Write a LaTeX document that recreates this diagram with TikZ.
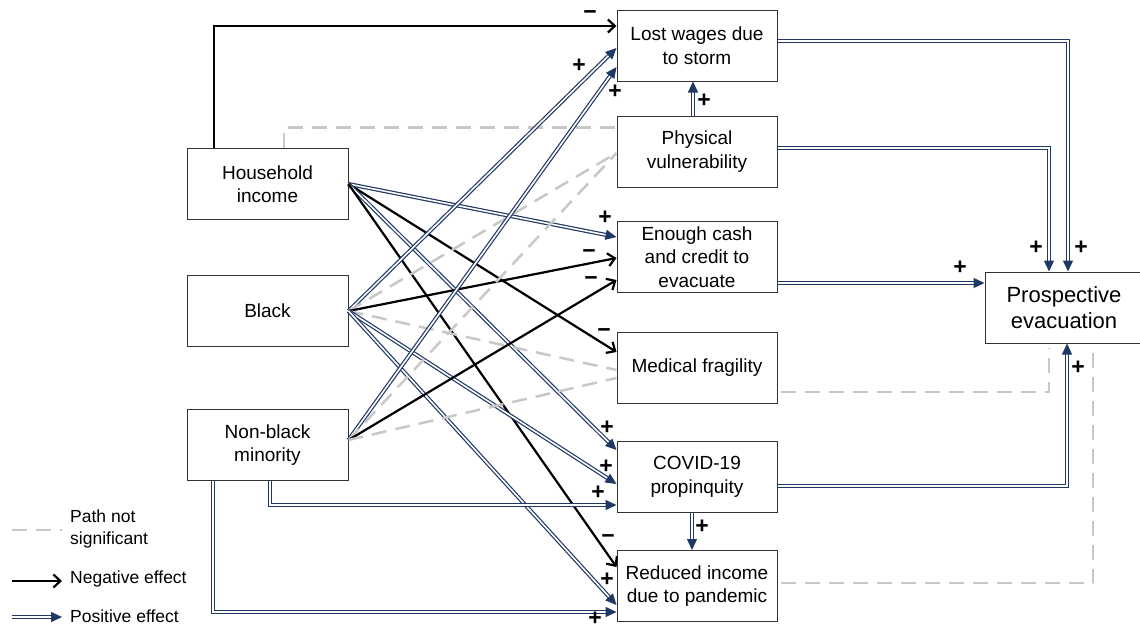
\documentclass[tikz,border=0pt]{standalone}
\usepackage{fontspec}
\setmainfont{Liberation Sans}
\usetikzlibrary{arrows.meta,calc}
\definecolor{navyc}{RGB}{31,56,100}
\definecolor{grayc}{RGB}{200,200,200}
\begin{document}
\begin{tikzpicture}[x=1pt,y=-1pt,
 box/.style={draw=black!80, line width=1pt, minimum width=160pt, minimum height=71pt, align=center, inner sep=2pt, font=\fontsize{19}{23.5}\selectfont},
 posarr/.style={draw=navyc, double=white, double distance=1.6pt, line width=1.2pt, -{Triangle[length=11pt,width=10pt]}},
 negarr/.style={draw=black, line width=2.2pt, -{Straight Barb[length=7pt,width=13pt]}},
 nsarr/.style={draw=grayc, line width=2.5pt, dash pattern=on 15pt off 9pt},
 sign/.style={font=\fontsize{23}{23}\selectfont\bfseries, inner sep=0pt},
 legtext/.style={anchor=west, align=left, inner sep=0pt, font=\fontsize{17.5}{22}\selectfont}]
\useasboundingbox (0,0) rectangle (1140,629);
% boxes
\node[box, minimum width=161pt] (hh) at (267.5,184) {Household\\income};
\node[box, minimum width=161pt] (bl) at (267.5,311) {Black};
\node[box, minimum width=161pt] (nb) at (267.5,445) {Non-black\\minority};
\node[box] (lost) at (697,45.5) {Lost wages due\\to storm};
\node[box] (phys) at (697,151.5) {Physical\\vulnerability};
\node[box] (en) at (697,257) {Enough cash\\and credit to\\evacuate};
\node[box] (med) at (697,368) {Medical fragility};
\node[box] (cov) at (697,477) {COVID-19\\propinquity};
\node[box] (red) at (697,586) {Reduced income\\due to pandemic};
\node[box, minimum width=158pt, font=\fontsize{22}{26}\selectfont] (pe) at (1064,307.5) {Prospective\\evacuation};
% household income
\draw[negarr] ([xshift=-53.5pt]hh.north) |- ([yshift=19.5pt]lost.west);
\draw[nsarr] ([xshift=16.5pt]hh.north) |- ([yshift=24pt]phys.west);
\draw[posarr] (hh.east) -- ([yshift=20pt]en.west);
\draw[negarr] (hh.east) -- ([yshift=16pt]med.west);
\draw[posarr] (hh.east) -- ([yshift=27pt]cov.west);
\draw[negarr] (hh.east) -- ([yshift=19pt]red.west);
% black
\draw[posarr] (bl.east) -- ([yshift=-2.5pt]lost.west);
\draw[nsarr] (bl.east) -- ([yshift=-1.5pt]phys.west);
\draw[negarr] (bl.east) -- ([yshift=-1pt]en.west);
\draw[nsarr] (bl.east) -- ([yshift=-2pt]med.west);
\draw[posarr] (bl.east) -- ([yshift=-7pt]cov.west);
\draw[posarr] (bl.east) -- ([yshift=-19pt]red.west);
% non-black minority
\draw[posarr] ([yshift=5pt]nb.east) -- ([yshift=-21.5pt]lost.west);
\draw[nsarr] ([yshift=5pt]nb.east) -- ([yshift=-1.5pt]phys.west);
\draw[negarr] ([yshift=5pt]nb.east) -- ([yshift=-23pt]en.west);
\draw[nsarr] ([yshift=5pt]nb.east) -- ([yshift=-10pt]med.west);
\draw[posarr] ([xshift=2.5pt]nb.south) |- ([yshift=-28pt]cov.west);
\draw[posarr] ([xshift=-54.5pt]nb.south) |- ([yshift=-26pt]red.west);
% mediators
\draw[posarr] ([xshift=-4pt]phys.north) -- ([xshift=-4pt]lost.south);
\draw[posarr] ([xshift=-5pt]cov.south) -- ([xshift=-5pt]red.north);
\draw[posarr] ([yshift=4.5pt]lost.east) -| ([xshift=4pt]pe.north);
\draw[posarr] ([yshift=3.5pt]phys.east) -| ([xshift=-15pt]pe.north);
\draw[posarr] ([yshift=-26pt]en.east) -- ([yshift=24.5pt]pe.west);
\draw[nsarr] ([xshift=3pt,yshift=-24pt]med.east) -| ([xshift=-15pt,yshift=-4pt]pe.south);
\draw[posarr] ([yshift=-9pt]cov.east) -| ([xshift=3pt]pe.south);
\draw[nsarr] ([xshift=3pt,yshift=3pt]red.east) -| ([xshift=29pt,yshift=-4pt]pe.south);
% signs
\node[sign] (s1) at (590,15) {−};
\node[sign] (s2) at (579,66) {+};
\node[sign] (s3) at (615,92) {+};
\node[sign] (s4) at (704,101) {+};
\node[sign] (s5) at (605,218) {+};
\node[sign] (s6) at (589,254) {−};
\node[sign] (s7) at (591,281) {−};
\node[sign] (s8) at (604,333) {−};
\node[sign] (s9) at (607,428) {+};
\node[sign] (s10) at (606,467) {+};
\node[sign] (s11) at (598,493) {+};
\node[sign] (s12) at (702,527) {+};
\node[sign] (s13) at (608,539) {−};
\node[sign] (s14) at (607,580) {+};
\node[sign] (s15) at (595,619) {+};
\node[sign] (s16) at (1036,248) {+};
\node[sign] (s17) at (1081,248) {+};
\node[sign] (s18) at (960,268) {+};
\node[sign] (s19) at (1078,368) {+};
% legend
\coordinate (l1a) at (12,530); \coordinate (l1b) at (62,530);
\coordinate (l2a) at (12,581); \coordinate (l2b) at (62,581);
\coordinate (l3a) at (12,617); \coordinate (l3b) at (62,617);
\draw[nsarr] (l1a) -- (l1b);
\draw[negarr] (l2a) -- (l2b);
\draw[posarr] (l3a) -- (l3b);
\node[legtext] (t1) at (70,529) {Path not\\significant};
\node[legtext] (t2) at (70,579) {Negative effect};
\node[legtext] (t3) at (70,616) {Positive effect};
\end{tikzpicture}
\end{document}
